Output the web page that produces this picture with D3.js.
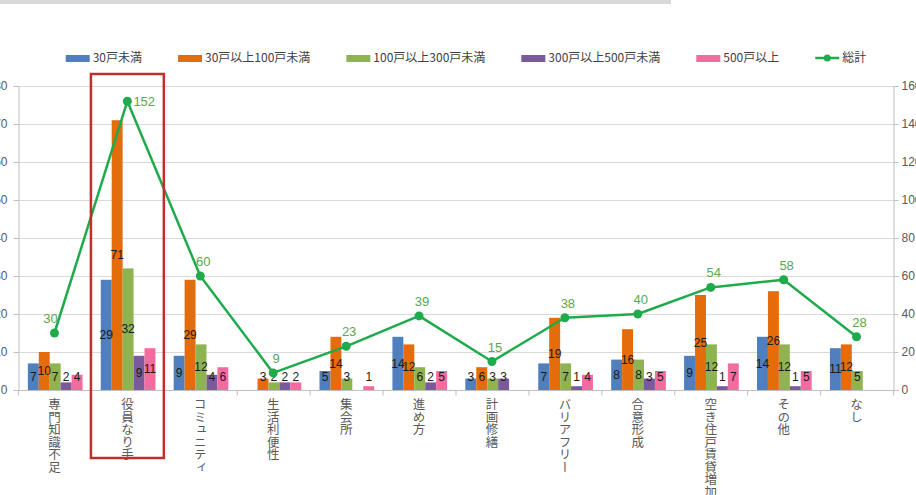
<!DOCTYPE html>
<html>
<head>
<meta charset="utf-8">
<script src="https://cdn.jsdelivr.net/npm/d3@7/dist/d3.min.js"></script>
<style>
  html, body { margin: 0; padding: 0; background: #fff; overflow: hidden; }
  svg { display: block; font-family: "Noto Sans CJK JP", "Noto Sans", sans-serif; }
</style>
</head>
<body>
<svg id="chart" width="916" height="495"></svg>
<script>
// Categories (x axis) and series
const categories = ["専門知識不足", "役員なり手", "コミュニティ", "生活利便性", "集会所", "進め方",
                    "計画修繕", "バリアフリー", "合意形成", "空き住戸賃貸増加", "その他", "なし"];
const seriesNames = ["30戸未満", "30戸以上100戸未満", "100戸以上300戸未満", "300戸以上500戸未満", "500戸以上"];
const seriesColors = ["#4f7fbc", "#e46c0a", "#8fb253", "#7a5a9b", "#f46ba0"];

// Counts per series (null = no answer in that class)
const under30      = [7, 29, 9, null, 5, 14, 3, 7, 8, 9, 14, 11];
const from30to100  = [10, 71, 29, 3, 14, 12, 6, 19, 16, 25, 26, 12];
const from100to300 = [7, 32, 12, 2, 3, 6, 3, 7, 8, 12, 12, 5];
const from300to500 = [2, 9, 4, 2, null, 2, 3, 1, 3, 1, 1, null];
const over500      = [4, 11, 6, 2, 1, 5, null, 4, 5, 7, 5, null];
const totals       = [30, 152, 60, 9, 23, 39, 15, 38, 40, 54, 58, 28];
const totalName = "総計";

const leftTicks = [0, 10, 20, 30, 40, 50, 60, 70, 80];
const rightTicks = [0, 20, 40, 60, 80, 100, 120, 140, 160];
const highlighted = "役員なり手";

const seriesValues = [under30, from30to100, from100to300, from300to500, over500];

const svg = d3.select("#chart");
const plot = { left: 18, right: 893, top: 86, bottom: 390 };

const x = d3.scaleBand().domain(categories).range([plot.left, plot.right]).padding(0);
const bw = x.bandwidth();
const xs = d3.scaleBand().domain(d3.range(seriesNames.length))
  .range([bw * 0.135, bw * 0.885]).padding(0);
const yL = d3.scaleLinear().domain([0, 80]).range([plot.bottom, plot.top]);
const yR = d3.scaleLinear().domain([0, 160]).range([plot.bottom, plot.top]);

// header strip
svg.append("rect").attr("x", 0).attr("y", 0).attr("width", 671).attr("height", 4).attr("fill", "#d9d9d9");

// gridlines
svg.append("g").selectAll("line").data(leftTicks.slice(1)).join("line")
  .attr("x1", plot.left).attr("x2", plot.right)
  .attr("y1", d => yL(d) + 0.5).attr("y2", d => yL(d) + 0.5)
  .attr("stroke", "#d9d9d9").attr("stroke-width", 1);

// left axis
const axL = svg.append("g").attr("transform", `translate(${plot.left + 0.5},0)`)
  .call(d3.axisLeft(yL).tickValues(leftTicks).tickSize(5).tickPadding(6).tickFormat(d3.format("d")));
// right axis
const axR = svg.append("g").attr("transform", `translate(${plot.right + 0.5},0)`)
  .call(d3.axisRight(yR).tickValues(rightTicks).tickSize(5).tickPadding(3).tickFormat(d3.format("d")));
[axL, axR].forEach(g => {
  g.select(".domain").attr("stroke", "#bfbfbf");
  g.selectAll(".tick line").attr("stroke", "#bfbfbf");
  g.selectAll(".tick text").attr("fill", "#595959").attr("font-size", 12)
    .attr("font-family", "'Liberation Sans', Arial, sans-serif");
});

// bars
const groups = svg.append("g").selectAll("g").data(categories).join("g")
  .attr("transform", d => `translate(${x(d)},0)`);
groups.each(function (cat, ci) {
  const g = d3.select(this);
  seriesValues.forEach((vals, si) => {
    const v = vals[ci];
    if (v == null) return;
    g.append("rect")
      .attr("x", xs(si)).attr("width", xs.bandwidth())
      .attr("y", yL(v)).attr("height", yL(0) - yL(v))
      .attr("fill", seriesColors[si]);
  });
});

// bottom axis
const axB = svg.append("g").attr("transform", `translate(0,${plot.bottom + 0.5})`);
axB.append("line").attr("x1", plot.left).attr("x2", plot.right).attr("stroke", "#bfbfbf");
axB.selectAll("line.t").data(d3.range(categories.length + 1)).join("line").attr("class", "t")
  .attr("x1", i => plot.left + i * bw + 0.5).attr("x2", i => plot.left + i * bw + 0.5)
  .attr("y1", 0).attr("y2", 5).attr("stroke", "#bfbfbf");

// vertical category labels
svg.append("g").selectAll("text").data(categories).join("text")
  .attr("x", d => x(d) + bw / 2).attr("y", plot.bottom + 8)
  .style("writing-mode", "vertical-rl")
  .attr("font-size", 12.5).attr("fill", "#595959")
  .text(d => d);

// bar value labels
groups.each(function (cat, ci) {
  const g = d3.select(this);
  seriesValues.forEach((vals, si) => {
    const v = vals[ci];
    if (v == null) return;
    const cy = Math.min((yL(v) + yL(0)) / 2, yL(0) - 13);
    g.append("text")
      .attr("x", xs(si) + xs.bandwidth() / 2).attr("y", cy)
      .attr("text-anchor", "middle").attr("dy", "0.35em")
      .attr("font-family", "'Liberation Sans Narrow', 'Liberation Sans', Arial, sans-serif")
      .attr("font-size", 12).attr("fill", "#1a1a1a")
      .text(v);
  });
});

// total line
const line = d3.line().x((d, i) => x(categories[i]) + bw / 2).y(d => yR(d));
svg.append("path").datum(totals).attr("d", line)
  .attr("fill", "none").attr("stroke", "#1fab4b").attr("stroke-width", 2.5).attr("stroke-linejoin", "round");
svg.append("g").selectAll("circle").data(totals).join("circle")
  .attr("cx", (d, i) => x(categories[i]) + bw / 2).attr("cy", d => yR(d)).attr("r", 4.5)
  .attr("fill", "#1fab4b");
svg.append("g").selectAll("text").data(totals).join("text")
  .each(function (d, i) {
    const px = x(categories[i]) + bw / 2, py = yR(d);
    const t = d3.select(this);
    if (py - 18 < plot.top) {
      t.attr("x", px + 6).attr("y", py).attr("dy", "0.35em").attr("text-anchor", "start");
    } else {
      t.attr("x", px + (i === 0 ? -4 : 3)).attr("y", py - 10).attr("text-anchor", "middle");
    }
  })
  .attr("font-family", "'Liberation Sans', Arial, sans-serif")
  .attr("font-size", 13).attr("fill", "#5aa84f")
  .text(d => d);

// highlight frame around one category
svg.append("rect")
  .attr("x", x(highlighted)).attr("width", bw)
  .attr("y", plot.top - 12).attr("height", 384)
  .attr("fill", "none").attr("stroke", "#c0302b").attr("stroke-width", 2.5);

// legend
const legend = svg.append("g").attr("font-size", 12).attr("fill", "#404040");
const items = seriesNames.map((n, i) => ({ name: n, color: seriesColors[i], type: "bar" }))
  .concat([{ name: totalName, color: "#1fab4b", type: "line" }]);
const gap = 36;
let cx = 0;
items.forEach(it => {
  const g = legend.append("g");
  if (it.type === "bar") {
    g.append("rect").attr("x", 0).attr("y", -3).attr("width", 24).attr("height", 7).attr("fill", it.color);
  } else {
    g.append("line").attr("x1", 0).attr("x2", 24).attr("y1", 0).attr("y2", 0)
      .attr("stroke", it.color).attr("stroke-width", 2.5);
    g.append("circle").attr("cx", 12).attr("cy", 0).attr("r", 3.5).attr("fill", it.color);
  }
  const t = g.append("text").attr("x", 27).attr("y", 0).attr("dy", "0.35em").text(it.name);
  const w = 27 + t.node().getComputedTextLength();
  g.attr("transform", `translate(${cx},0)`);
  cx += w + gap;
});
const totalW = cx - gap;
legend.attr("transform", `translate(${466 - totalW / 2},58)`);
</script>
</body>
</html>
